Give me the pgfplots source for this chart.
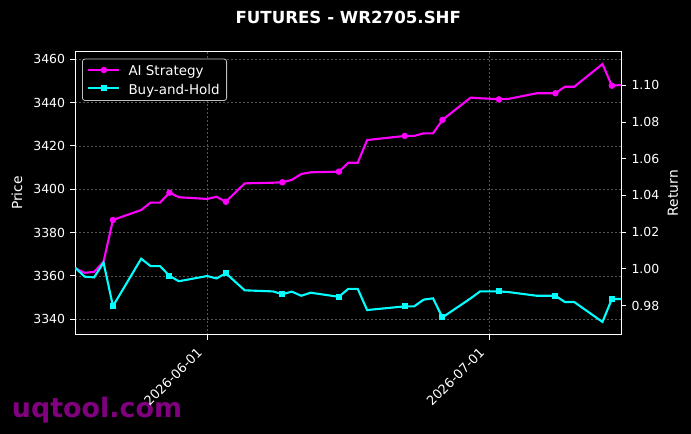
\documentclass[border=0pt]{standalone}
\usepackage{pgfplots}
\pgfplotsset{compat=1.18}
\usepackage{fontspec}
\setmainfont{DejaVu Sans}
\definecolor{mag}{RGB}{255,0,255}
\definecolor{cya}{RGB}{0,255,255}
\definecolor{wm}{RGB}{128,0,128}
\definecolor{gridc}{RGB}{85,85,85}
\begin{document}
\begin{tikzpicture}
\fill[black] (-75.3bp,-99.5bp) rectangle (615.7bp,334.5bp);
\path[use as bounding box] (-75.3bp,-99.5bp) rectangle (615.7bp,334.5bp);
\node[anchor=base west, inner sep=0pt, text=wm] at (-63.6bp,-82.5bp) {\fontsize{27}{30}\selectfont\bfseries uqtool.com};
\node[text=white, inner sep=0pt] at (273bp,316.7bp) {\fontsize{16.7}{19}\selectfont\bfseries FUTURES - WR2705.SHF};
\begin{axis}[
  at={(0,0)}, anchor=south west, scale only axis,
  width=546bp, height=282.8bp,
  xmin=0, xmax=58, ymin=3332.9, ymax=3463.5,
  axis line style={white, line width=1bp},
  tick style={white, line width=0.8bp},
  tick align=outside, major tick length=5bp,
  xtick pos=lower, ytick pos=left,
  xtick={14,44}, xticklabels={2026-06-01,2026-07-01},
  ytick={3340,3360,3380,3400,3420,3440,3460},
  yticklabels={3340,3360,3380,3400,3420,3440,3460},
  minor tick num=0,
  tick label style={text=white, font=\fontsize{12.5}{14}\selectfont},
  yticklabel style={inner sep=0pt, xshift=-5bp},
  xticklabel style={xshift=-11bp, yshift=-7bp, rotate=45, anchor=north east, inner sep=0pt, font=\fontsize{13}{15}\selectfont},
  xmajorgrids, ymajorgrids,
  major grid style={gridc, line width=0.5bp, dash pattern=on 2bp off 2bp},
  ylabel={Price},
  ylabel style={text=white, font=\fontsize{13.9}{16}\selectfont, at={(rel axis cs:-0.1068,0.5)}, anchor=center, rotate=0},
  legend style={at={(0.0123,0.9755)}, anchor=north west, fill=black, draw=white!75!black,
     rounded corners=2.5bp, text=white, font=\fontsize{13.5}{16}\selectfont,
     inner xsep=5bp, inner ysep=2.5bp, line width=0.8bp,
     /tikz/every odd column/.append style={column sep=6bp}},
  legend cell align=left,
  legend image code/.code={\draw[#1,mark repeat=2,mark phase=2] plot coordinates {(0bp,0bp)(15.5bp,0bp)(31bp,0bp)};},
]
\addplot[mag, line width=2.1bp, mark=*, mark size=2.1bp, mark repeat=4, mark phase=5, mark options={solid, fill=mag, draw=mag}] coordinates {
(0,3363.5)(1,3361.4)(2,3361.8)(3,3366.5)(4,3385.8)(7,3390.4)(8,3393.8)(9,3393.8)(10,3398.4)(11,3396.3)(14,3395.5)(15,3396.5)(16,3394.2)(17,3398.5)(18,3402.7)(21,3403.0)(22,3403.2)(23,3404.3)(24,3407.0)(25,3407.8)(28,3408.1)(29,3412.2)(30,3412.2)(31,3422.7)(35,3424.6)(36,3424.6)(37,3425.8)(38,3425.8)(39,3432.0)(42,3442.3)(43,3442.0)(44,3441.8)(45,3441.5)(46,3441.7)(49,3444.3)(50,3444.3)(51,3444.3)(52,3447.3)(53,3447.3)(56,3457.8)(57,3447.8)(58,3448.1)
};
\addlegendentry{\rule[-9bp]{0pt}{20.5bp}AI Strategy}
\addplot[cya, line width=2.1bp, mark=square*, mark size=2bp, mark repeat=4, mark phase=5, mark options={solid, fill=cya, draw=cya}] coordinates {
(0,3363.7)(1,3359.6)(2,3359.3)(3,3366.1)(4,3346.0)(7,3367.9)(8,3364.5)(9,3364.5)(10,3360.0)(11,3357.5)(14,3359.9)(15,3358.8)(16,3361.2)(17,3357.2)(18,3353.3)(21,3352.8)(22,3351.5)(23,3352.7)(24,3350.8)(25,3352.2)(28,3350.3)(29,3354.0)(30,3354.0)(31,3344.2)(35,3345.9)(36,3345.9)(37,3349.0)(38,3349.6)(39,3340.8)(42,3349.6)(43,3352.8)(44,3352.8)(45,3352.8)(46,3352.5)(49,3350.8)(50,3350.8)(51,3350.8)(52,3347.9)(53,3347.9)(56,3338.7)(57,3349.3)(58,3349.3)
};
\addlegendentry{\rule[-10bp]{0pt}{24bp}Buy-and-Hold}
\end{axis}
\begin{axis}[
  at={(0,0)}, anchor=south west, scale only axis,
  width=546bp, height=282.8bp,
  xmin=0, xmax=58, ymin=0.9642, ymax=1.1183,
  axis x line=none, axis y line*=right,
  axis line style={white, line width=1bp},
  tick style={white, line width=0.8bp},
  tick align=outside, major tick length=5bp,
  ytick={0.98,1.00,1.02,1.04,1.06,1.08,1.10},
  yticklabels={0.98,1.00,1.02,1.04,1.06,1.08,1.10},
  minor tick num=0,
  tick label style={text=white, font=\fontsize{12.5}{14}\selectfont},
  yticklabel style={inner sep=0pt, xshift=5bp},
  ylabel={Return},
  ylabel style={text=white, font=\fontsize{13.9}{16}\selectfont, at={(rel axis cs:1.0947,0.5)}, anchor=center, rotate=0},
]
\end{axis}
\end{tikzpicture}
\end{document}
